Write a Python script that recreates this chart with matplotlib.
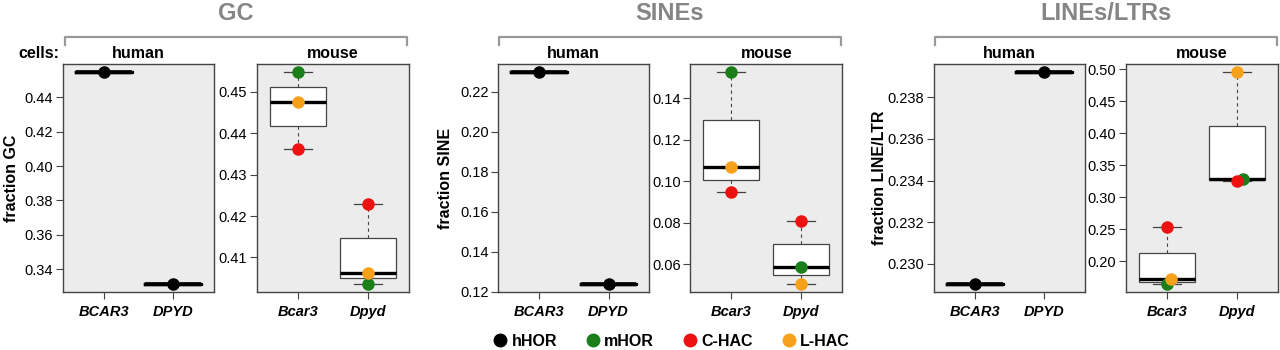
import matplotlib
matplotlib.use("Agg")
import matplotlib.pyplot as plt
from matplotlib.lines import Line2D

plt.rcParams['font.family'] = ['Liberation Sans', 'DejaVu Sans']

# data
human_genes = ['BCAR3', 'DPYD']
mouse_genes = ['Bcar3', 'Dpyd']
cell_lines = ['mHOR', 'C-HAC', 'L-HAC']

gc_human = [0.4545, 0.3315]
gc_mouse = {'mHOR': [0.4547, 0.4036], 'C-HAC': [0.4362, 0.4230], 'L-HAC': [0.4475, 0.4063]}

sine_human = [0.2297, 0.1240]
sine_mouse = {'mHOR': [0.1525, 0.0587], 'C-HAC': [0.0949, 0.0807], 'L-HAC': [0.1067, 0.0506]}

line_human = [0.22904, 0.23919]
line_mouse = {'mHOR': [0.1648, 0.3287], 'C-HAC': [0.2531, 0.3256], 'L-HAC': [0.1720, 0.4949]}
# small horizontal nudge used for overlapping points in the LINE/LTR mouse panel
line_nudge = {'mHOR': [0.0, 0.095], 'C-HAC': [0.0, 0.0], 'L-HAC': [0.057, 0.0]}

colors = {'hHOR': '#000000', 'mHOR': '#1a7f1a', 'C-HAC': '#ee1111', 'L-HAC': '#f7a11a'}

gc_ticks_h = [0.34, 0.36, 0.38, 0.40, 0.42, 0.44]
gc_ticks_m = [0.41, 0.42, 0.43, 0.44, 0.45]
sine_ticks_h = [0.12, 0.14, 0.16, 0.18, 0.20, 0.22]
sine_ticks_m = [0.06, 0.08, 0.10, 0.12, 0.14]
line_ticks_h = [0.230, 0.232, 0.234, 0.236, 0.238]
line_ticks_m = [0.20, 0.25, 0.30, 0.35, 0.40, 0.45, 0.50]

W, H = 1280, 350
fig = plt.figure(figsize=(12.8, 3.5), dpi=100)

bg = '#ececec'
edge = '#444444'


def px(x0, y0, x1, y1):
    return [x0 / W, 1 - y1 / H, (x1 - x0) / W, (y1 - y0) / H]


def style(ax, labels, ticks, fmt):
    ax.set_facecolor(bg)
    for s in ax.spines.values():
        s.set_color(edge)
        s.set_linewidth(1.0)
    ax.set_xlim(0.415, 2.585)
    ax.set_xticks([1, 2])
    ax.set_xticklabels(labels, fontsize=10.5, fontweight='bold', fontstyle='italic')
    ax.set_yticks(ticks)
    ax.set_yticklabels([fmt.format(t) for t in ticks], fontsize=10.5)
    ax.tick_params(axis='both', length=5, width=0.8, color=edge, pad=2)
    ax.tick_params(axis='x', pad=4)


def draw_box(ax, columns):
    ax.boxplot(columns, positions=[1, 2], widths=0.8, whis=1e9,
               patch_artist=True, showfliers=False,
               boxprops=dict(facecolor='white', edgecolor=edge, linewidth=0.9),
               medianprops=dict(color='black', linewidth=2.4, solid_capstyle='butt'),
               whiskerprops=dict(color=edge, linewidth=0.8, linestyle=(0, (3, 3))),
               capprops=dict(color=edge, linewidth=0.9), capwidths=0.4,
               zorder=2)


def human_panel(rect, values, ticks, fmt, ylabel, label_x):
    ax = fig.add_axes(rect)
    ax.boxplot([[v] for v in values], positions=[1, 2], widths=0.8, whis=1e9,
               showfliers=False, showcaps=False,
               boxprops=dict(color='black', linewidth=2.4),
               medianprops=dict(color='black', linewidth=2.6, solid_capstyle='butt'),
               whiskerprops=dict(linewidth=0))
    ax.plot([1, 2], values, 'o', color=colors['hHOR'], markersize=8, zorder=5)
    ax.margins(y=0.04)
    style(ax, human_genes, ticks, fmt)
    ax.set_ylabel(ylabel, fontsize=11.5, fontweight='bold')
    ax.yaxis.set_label_coords(label_x, 0.5)
    ax.set_title('human', fontsize=11.5, fontweight='bold', pad=4)
    return ax


def mouse_panel(rect, values, ticks, fmt, nudge=None):
    ax = fig.add_axes(rect)
    columns = [[values[c][i] for c in cell_lines] for i in range(2)]
    draw_box(ax, columns)
    for c in cell_lines:
        off = nudge[c] if nudge else [0, 0]
        ax.plot([1 + off[0], 2 + off[1]], values[c], 'o', linestyle='none',
                color=colors[c], markersize=8, zorder=5)
    ax.margins(y=0.04)
    style(ax, mouse_genes, ticks, fmt)
    ax.set_title('mouse', fontsize=11.5, fontweight='bold', pad=4)
    return ax


def bracket(title, x0, x1):
    y = 1 - 36.7 / H
    yt = 1 - 45 / H
    c = '#999999'
    fig.add_artist(Line2D([x0 / W, x0 / W, x1 / W, x1 / W], [yt, y, y, yt],
                          color=c, linewidth=1.6))
    fig.text((x0 + x1) / 2 / W, 1 - 13 / H, title, ha='center', va='center',
             fontsize=17, fontweight='bold', color='#858585')


top, bottom = 64, 292.3

# GC
human_panel(px(62.7, top, 214.3, bottom), gc_human, gc_ticks_h, '{:.2f}', 'fraction GC', -0.29)
mouse_panel(px(256.7, top, 408.7, bottom), gc_mouse, gc_ticks_m, '{:.2f}')
bracket('GC', 65, 406.7)

# SINEs
human_panel(px(498.3, top, 649.3, bottom), sine_human, sine_ticks_h, '{:.2f}', 'fraction SINE', -0.298)
mouse_panel(px(690.3, top, 842.3, bottom), sine_mouse, sine_ticks_m, '{:.2f}')
bracket('SINEs', 499, 840.7)

# LINEs/LTRs
human_panel(px(933.7, top, 1085.3, bottom), line_human, line_ticks_h, '{:.3f}', 'fraction LINE/LTR', -0.308)
mouse_panel(px(1125.7, top, 1277.7, bottom), line_mouse, line_ticks_m, '{:.2f}', nudge=line_nudge)
bracket('LINEs/LTRs', 934.7, 1276.7)

fig.text(18 / W, 1 - 58.3 / H, 'cells:', fontsize=11.5, fontweight='bold', va='baseline')

handles = [Line2D([], [], marker='o', linestyle='none', color=colors[k], markersize=9)
           for k in ['hHOR', 'mHOR', 'C-HAC', 'L-HAC']]
fig.legend(handles, ['hHOR', 'mHOR', 'C-HAC', 'L-HAC'], loc='center', ncol=4,
           bbox_to_anchor=(671 / W, 1 - 341 / H), frameon=False,
           prop=dict(size=11.5, weight='bold'), handletextpad=0.2,
           columnspacing=1.75, handlelength=1.0, borderpad=0)

fig.savefig('out.png', dpi=100)
